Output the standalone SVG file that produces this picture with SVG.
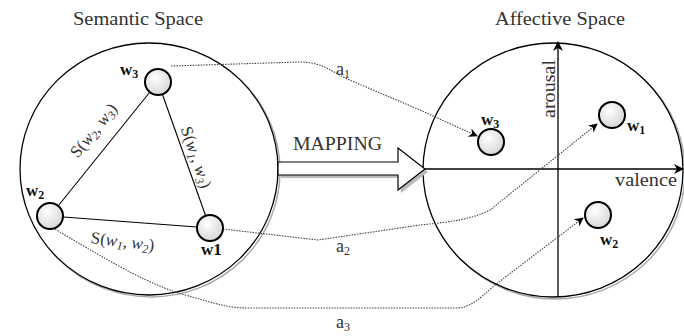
<svg xmlns="http://www.w3.org/2000/svg" width="684" height="336" viewBox="0 0 684 336">
<defs>
<radialGradient id="nodeFill" cx="0.4" cy="0.35" r="0.7">
<stop offset="0" stop-color="#ffffff"/>
<stop offset="1" stop-color="#d4d4d4"/>
</radialGradient>
<marker id="ah" viewBox="0 0 10 10" refX="9" refY="5" markerWidth="9" markerHeight="9" orient="auto" markerUnits="userSpaceOnUse">
<path d="M0,0 L10,5 L0,10 L3,5 Z" fill="#000"/>
</marker>
<marker id="axh" viewBox="0 0 10 10" refX="9" refY="5" markerWidth="10" markerHeight="10" orient="auto" markerUnits="userSpaceOnUse">
<path d="M0,0 L10,5 L0,10 L3,5 Z" fill="#000"/>
</marker>
</defs>
<style>
text{font-family:"Liberation Serif","Times New Roman","DejaVu Serif",serif}
.title{font-size:18px;fill:#333}
.wl{font-size:17px;font-weight:bold;fill:#111}
.sl{font-size:17px;fill:#333}
.it{font-style:italic}
.al{font-size:18px;fill:#333}
.node{fill:url(#nodeFill);stroke:#000;stroke-width:2}
.edge{stroke:#000;stroke-width:1.1;fill:none}
.dot{stroke:#444;stroke-width:1.1;stroke-dasharray:1.5 1.2;fill:none}
.space{fill:#fff;stroke:#000;stroke-width:1.3}
.shadow{fill:none;stroke:#aaa;stroke-width:1.5}
.axis{stroke:#000;stroke-width:1.3;fill:none}
</style>
<rect width="684" height="336" fill="#fff"/>

<g id="titles">
<text class="title" x="73" y="25" textLength="130" lengthAdjust="spacingAndGlyphs">Semantic Space</text>
<text class="title" x="495" y="25" textLength="130" lengthAdjust="spacingAndGlyphs">Affective Space</text>
</g>

<g id="semantic-space">
<ellipse class="shadow" cx="151" cy="171" rx="129" ry="126"/>
<ellipse class="space" cx="149" cy="169" rx="129" ry="126"/>
</g>

<g id="affective-space">
<ellipse class="shadow" cx="555" cy="172" rx="130" ry="127"/>
<ellipse class="space" cx="553" cy="170" rx="130" ry="127"/>
<line class="axis" x1="423" y1="169" x2="683" y2="169" marker-end="url(#axh)"/>
<line class="axis" x1="558" y1="297" x2="558" y2="42" marker-end="url(#axh)"/>
<text class="al" transform="translate(555,118) rotate(-90)" textLength="58" lengthAdjust="spacingAndGlyphs">arousal</text>
<text class="al" x="615" y="186" textLength="62" lengthAdjust="spacingAndGlyphs">valence</text>
</g>

<g id="mapping">
<polygon points="281,165 401,165 401,151 428,172 401,193 401,178 281,178" fill="#bbb" stroke="none"/>
<polygon points="278,162 398,162 398,148 425,169 398,190 398,175 278,175" fill="#fff" stroke="#000" stroke-width="1.2"/>
<text class="title" x="293" y="150" textLength="89" lengthAdjust="spacingAndGlyphs">MAPPING</text>
</g>

<g id="connectors">
<line class="edge" x1="158" y1="82" x2="50" y2="216"/>
<line class="edge" x1="158" y1="82" x2="210" y2="228"/>
<line class="edge" x1="50" y1="216" x2="210" y2="228"/>
<path class="dot" d="M171,66 L300,62 C320,62 330,70 345,78 L420,110 L477,136" marker-end="url(#ah)"/>
<path class="dot" d="M223,229 L318,240 L420,225 C450,222 470,220 490,210 L597,124" marker-end="url(#ah)"/>
<path class="dot" d="M55,229 C110,262 150,285 185,295 C215,303 225,308 250,308 L455,308 C470,308 478,300 495,285 L583,218" marker-end="url(#ah)"/>
<text class="al" x="343" y="75" text-anchor="middle">a<tspan font-size="12" dy="3">1</tspan></text>
<text class="al" x="343" y="252" text-anchor="middle">a<tspan font-size="12" dy="3">2</tspan></text>
<text class="al" x="343" y="328" text-anchor="middle">a<tspan font-size="12" dy="3">3</tspan></text>
<text class="sl" transform="translate(98,134) rotate(-51)" text-anchor="middle">S(<tspan class="it">w</tspan><tspan font-size="12" dy="3" class="it">2</tspan><tspan dy="-3">, </tspan><tspan class="it">w</tspan><tspan font-size="12" dy="3" class="it">3</tspan><tspan dy="-3">)</tspan></text>
<text class="sl" transform="translate(191,159) rotate(71)" text-anchor="middle">S(<tspan class="it">w</tspan><tspan font-size="12" dy="3" class="it">1</tspan><tspan dy="-3">, </tspan><tspan class="it">w</tspan><tspan font-size="12" dy="3" class="it">3</tspan><tspan dy="-3">)</tspan></text>
<text class="sl" transform="translate(122,247) rotate(7)" text-anchor="middle">S(<tspan class="it">w</tspan><tspan font-size="12" dy="3" class="it">1</tspan><tspan dy="-3">, </tspan><tspan class="it">w</tspan><tspan font-size="12" dy="3" class="it">2</tspan><tspan dy="-3">)</tspan></text>
</g>

<g id="sem-w3">
<circle class="node" cx="158" cy="82" r="13"/>
<text class="wl" x="120" y="75">w<tspan font-size="12" dy="3">3</tspan></text>
</g>
<g id="sem-w2">
<circle class="node" cx="50" cy="216" r="13"/>
<text class="wl" x="26" y="196">w<tspan font-size="12" dy="3">2</tspan></text>
</g>
<g id="sem-w1">
<circle class="node" cx="210" cy="228" r="13"/>
<text class="wl" x="201" y="255">w1</text>
</g>

<g id="aff-w3">
<circle class="node" cx="491" cy="142" r="13"/>
<text class="wl" x="481" y="125">w<tspan font-size="12" dy="3">3</tspan></text>
</g>
<g id="aff-w1">
<circle class="node" cx="612" cy="115" r="13"/>
<text class="wl" x="627" y="131">w<tspan font-size="12" dy="3">1</tspan></text>
</g>
<g id="aff-w2">
<circle class="node" cx="598" cy="215" r="13"/>
<text class="wl" x="600" y="245">w<tspan font-size="12" dy="3">2</tspan></text>
</g>
</svg>
